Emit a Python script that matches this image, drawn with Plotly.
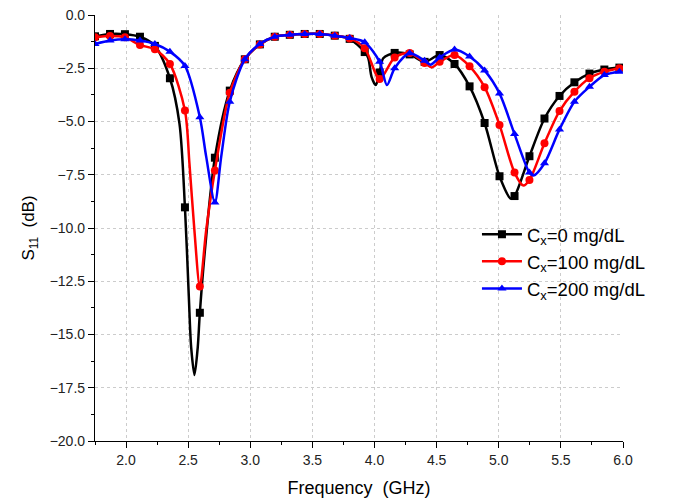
import plotly.graph_objects as go

# ---------------- data ----------------
FREQ_MK = [1.750, 1.871, 1.991, 2.112, 2.232, 2.353, 2.474, 2.594, 2.715, 2.835,
           2.956, 3.077, 3.197, 3.318, 3.438, 3.559, 3.680, 3.800, 3.921, 4.041,
           4.162, 4.283, 4.403, 4.524, 4.644, 4.765, 4.886, 5.006, 5.127, 5.247,
           5.368, 5.489, 5.609, 5.730, 5.850, 5.971]

S11_C0 = [-1.00, -0.89, -0.90, -1.02, -1.45, -2.97, -9.03, -13.98, -6.70, -3.55,
          -2.08, -1.38, -1.02, -0.93, -0.89, -0.89, -0.97, -1.12, -1.74, -2.70,
          -1.78, -1.85, -2.20, -1.88, -2.30, -3.35, -5.07, -7.57, -8.50, -6.63,
          -4.86, -3.80, -3.16, -2.75, -2.56, -2.47]
S11_C100 = [-1.05, -0.99, -1.05, -1.41, -1.61, -2.30, -4.48, -12.75, -7.30, -3.65,
            -2.08, -1.38, -1.02, -0.93, -0.89, -0.89, -0.97, -1.10, -1.56, -3.00,
            -2.00, -1.78, -2.25, -2.20, -1.88, -2.41, -3.39, -5.16, -7.40, -7.75,
            -6.02, -4.51, -3.60, -2.97, -2.66, -2.50]
S11_C200 = [-1.36, -1.20, -1.14, -1.20, -1.36, -1.72, -2.39, -4.80, -8.80, -4.07,
            -2.08, -1.36, -1.02, -0.93, -0.89, -0.89, -0.97, -1.08, -1.28, -2.20,
            -2.50, -1.80, -2.15, -2.00, -1.62, -1.95, -2.60, -3.68, -5.59, -7.40,
            -6.96, -5.37, -4.07, -3.37, -2.82, -2.66]

# additional curve points between markers (resonance minima etc.)
EXTRA_F_C0 = [2.430, 2.505, 2.524, 2.551, 2.577, 2.645, 3.950, 3.976, 4.010, 4.070, 5.097]
EXTRA_V_C0 = [-5.10, -13.20, -15.60, -16.90, -15.60, -10.40, -2.03, -2.90, -3.29, -2.03, -8.62]
EXTRA_F_C100 = [2.510, 2.550, 2.645, 4.460, 5.198]
EXTRA_V_C100 = [-6.96, -10.10, -10.10, -2.46, -8.01]
EXTRA_F_C200 = [2.645, 2.766, 4.100, 4.450, 5.280]
EXTRA_V_C200 = [-6.65, -6.65, -3.29, -2.33, -7.54]

NAMES = ["C<sub>x</sub>=0 mg/dL", "C<sub>x</sub>=100 mg/dL", "C<sub>x</sub>=200 mg/dL"]
COLORS = ["#000000", "#ff0000", "#0000ff"]
SYMBOLS = ["square", "circle", "triangle-up"]

X_TICKS = [2.0, 2.5, 3.0, 3.5, 4.0, 4.5, 5.0, 5.5, 6.0]
Y_TICKS = [0.0, -2.5, -5.0, -7.5, -10.0, -12.5, -15.0, -17.5, -20.0]

# ---------------- figure ----------------
FONT = "Arial, Liberation Sans, sans-serif"
fig = go.Figure()

series = [
    (S11_C0, EXTRA_F_C0, EXTRA_V_C0),
    (S11_C100, EXTRA_F_C100, EXTRA_V_C100),
    (S11_C200, EXTRA_F_C200, EXTRA_V_C200),
]

for i, (mk, ef, ev) in enumerate(series):
    pts = sorted(list(zip(FREQ_MK, mk)) + list(zip(ef, ev)))
    lx = [p[0] for p in pts]
    ly = [p[1] for p in pts]
    fig.add_trace(go.Scatter(
        x=lx, y=ly, mode="lines",
        line=dict(color=COLORS[i], width=2.5, shape="spline", smoothing=0.8),
        showlegend=False, hoverinfo="skip", legendgroup=str(i)))
    fig.add_trace(go.Scatter(
        x=FREQ_MK, y=mk, mode="markers",
        marker=dict(color=COLORS[i], symbol=SYMBOLS[i], size=8,
                    line=dict(width=0)),
        showlegend=False, legendgroup=str(i)))
    fig.add_trace(go.Scatter(
        x=[None], y=[None], mode="lines+markers", name=NAMES[i],
        line=dict(color=COLORS[i], width=2.5),
        marker=dict(color=COLORS[i], symbol=SYMBOLS[i], size=8),
        legendgroup=str(i)))

# the page body adds an 8px offset, so the figure is sized to fit the window
fig.update_layout(
    width=673, height=495,
    margin=dict(l=87, r=58, t=7, b=62, autoexpand=False),
    paper_bgcolor="white", plot_bgcolor="white",
    font=dict(family=FONT, color="#000000", size=14),
    showlegend=True,
    legend=dict(x=0.7234, y=0.5287, xanchor="left", yanchor="top",
                font=dict(size=18.5, family=FONT, color="#000000"),
                bgcolor="rgba(0,0,0,0)", borderwidth=0,
                tracegroupgap=0, itemwidth=40),
)

fig.update_xaxes(
    range=[1.75, 6.0], tickvals=X_TICKS, ticktext=[f"{v:.1f}" for v in X_TICKS],
    automargin=False, ticklabeloverflow="allow",
    ticks="outside", ticklen=6, tickwidth=1.2, tickcolor="#000000",
    showline=True, linecolor="#000000", linewidth=1.2, mirror=False,
    showgrid=True, gridcolor="#cccccc", gridwidth=1, griddash="dot",
    zeroline=False,
    minor=dict(tickvals=[1.75, 2.25, 2.75, 3.25, 3.75, 4.25, 4.75, 5.25, 5.75],
               ticks="outside", ticklen=3, tickwidth=1.2, tickcolor="#000000",
               showgrid=False),
    tickfont=dict(size=14, family=FONT, color="#222222"),
    title=dict(text="Frequency\u00a0\u00a0(GHz)", font=dict(size=18, family=FONT), standoff=14),
)

fig.update_yaxes(
    range=[-20, 0], tickvals=Y_TICKS, ticktext=[f"{v:.1f}".replace("-", "\u2212") for v in Y_TICKS],
    automargin=False, ticklabeloverflow="allow",
    ticks="outside", ticklen=6, tickwidth=1.2, tickcolor="#000000",
    showline=True, linecolor="#000000", linewidth=1.2, mirror=False,
    showgrid=True, gridcolor="#cccccc", gridwidth=1, griddash="dot",
    zeroline=False,
    minor=dict(tickvals=[-1.25, -3.75, -6.25, -8.75, -11.25, -13.75, -16.25, -18.75],
               ticks="outside", ticklen=3, tickwidth=1.2, tickcolor="#000000",
               showgrid=False),
    tickfont=dict(size=14, family=FONT, color="#222222"),
    title=dict(text="S<sub>11</sub>\u00a0\u00a0(dB)", font=dict(size=17, family=FONT), standoff=10),
)

fig.write_html("out.html")
